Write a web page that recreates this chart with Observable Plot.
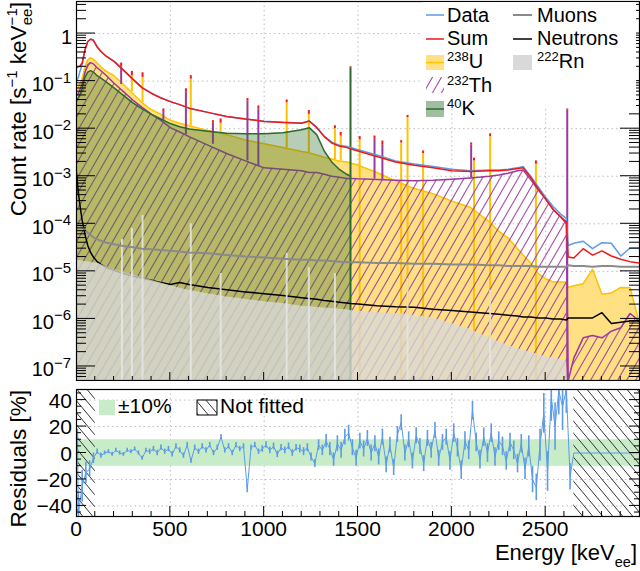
<!DOCTYPE html>
<html><head><meta charset="utf-8">
<script src="https://cdn.jsdelivr.net/npm/d3@7"></script>
<script src="https://cdn.jsdelivr.net/npm/@observablehq/plot@0.6"></script>
<style>
html,body{margin:0;padding:0;background:#fff;}
#wrap{position:relative;width:640px;height:571px;overflow:hidden;background:#fff;}
#top,#bot{position:absolute;left:0;}
#top{top:0}
#bot{top:381px}
svg{display:block}
</style></head><body>
<div id="wrap"><div id="top"></div><div id="bot"></div></div>
<script>
// ---------------- DATA ----------------
const energy = [0,10,20,30,45,60,75,90,110,130,160,200,250,300,350,400,450,500,550,600,700,800,900,1000,1100,1200,1240,1280,1320,1360,1400,1440,1460,1500,1600,1700,1800,1900,2000,2100,2200,2250,2300,2350,2380,2420,2460,2500,2540,2580,2610,2620,2650,2700,2750,2800,2850,2900,2950,3000];
const dataRate = [0.1,0.12,0.17,0.22,0.45,0.68,0.77,0.73,0.53,0.42, 0.33,0.26,0.17,0.11,0.073,0.056,0.045,0.037,0.032,0.027, 0.022,0.018,0.016,0.0143,0.0136,0.0132,0.0146,0.0107,0.007,0.0052, 0.0045,0.0042,0.004,0.0036,0.0028,0.0021,0.0018,0.0016,0.0014,0.0013, 0.00135,0.00135,0.0014,0.0015,0.0016,0.001,0.0006,0.00036,0.00023,0.00016, 0.00013,3.5e-5,3.9e-5,4.3e-5,3e-5,4e-5,3.9e-5,2.1e-5,3.1e-5,3.1e-5];
const sumRate = [0.19,0.2,0.21,0.24,0.45,0.68,0.76,0.72,0.52,0.42, 0.33,0.26,0.17,0.11,0.072,0.055,0.044,0.037,0.032,0.027, 0.022,0.018,0.016,0.0142,0.0135,0.013,0.0145,0.0105,0.0068,0.005, 0.0043,0.004,0.0038,0.0034,0.0026,0.002,0.0017,0.0015,0.0013,0.00125, 0.0013,0.0013,0.00135,0.00145,0.0015,0.00095,0.00055,0.00033,0.0002,0.00014, 0.00011,2e-5,1.9e-5,3e-5,2.2e-5,2.7e-5,2.1e-5,1.8e-5,1.6e-5,1.5e-5];
const u238 = [0.069,0.075,0.09,0.11,0.2,0.28,0.31,0.29,0.24,0.2, 0.16,0.13,0.085,0.055,0.035,0.025,0.02,0.015,0.013,0.0115, 0.0092,0.0075,0.0058,0.0048,0.004,0.0033,0.0031,0.0028,0.0025,0.0023, 0.0021,0.002,0.0019,0.0017,0.0012,0.0008,0.00055,0.00043,0.0003,0.00022, 0.00011,7e-5,5e-5,3e-5,2.2e-5,1.5e-5,9e-6,7e-6,6e-6,6e-6, 6e-6,4.6e-6,5e-6,5.5e-6,1.1e-5,3.3e-6,3.5e-6,4.6e-6,4.5e-6,8e-7];
const th232 = [0.05,0.055,0.07,0.085,0.15,0.22,0.245,0.23,0.19,0.165, 0.13,0.09,0.06,0.04,0.028,0.02,0.015,0.0105,0.0085,0.0068, 0.0045,0.003,0.0021,0.0015,0.0014,0.0013,0.0012,0.0012,0.0011,0.001, 0.00095,0.0009,0.0009,0.00088,0.00085,0.00082,0.0008,0.00082,0.00086,0.00092, 0.001,0.00106,0.00115,0.0013,0.00135,0.00085,0.00052,0.00033,0.0002,0.00014, 0.0001,5e-8,1.5e-7,4e-7,4.5e-7,4e-7,5.5e-7,6.5e-7,1.3e-6,9e-7];
const k40 = [0.039,0.045,0.055,0.07,0.12,0.155,0.166,0.155,0.13,0.115, 0.095,0.072,0.05,0.035,0.026,0.02,0.016,0.0128,0.011,0.0098, 0.0088,0.008,0.0078,0.0078,0.0082,0.0095,0.0105,0.0075,0.0034,0.002, 0.0014,0.0011,0.001,null,null,null,null,null,null,null, null,null,null,null,null,null,null,null,null,null, null,null,null,null,null,null,null,null,null,null];
const muons = [9e-5,1e-4,9.5e-5,8.5e-5,7.5e-5,6.5e-5,5.8e-5,5.2e-5,4.7e-5,4.4e-5, 4e-5,3.7e-5,3.4e-5,3.2e-5,3e-5,2.9e-5,2.8e-5,2.7e-5,2.6e-5,2.5e-5, 2.4e-5,2.2e-5,2.05e-5,1.95e-5,1.85e-5,1.75e-5,1.75e-5,1.7e-5,1.7e-5,1.65e-5, 1.6e-5,1.55e-5,1.55e-5,1.55e-5,1.5e-5,1.5e-5,1.45e-5,1.45e-5,1.4e-5,1.4e-5, 1.35e-5,1.35e-5,1.3e-5,1.3e-5,1.3e-5,1.3e-5,1.25e-5,1.25e-5,1.25e-5,1.25e-5, 1.25e-5,1.35e-5,1.3e-5,1.3e-5,1.25e-5,1.3e-5,1.3e-5,1.25e-5,1.25e-5,1.25e-5];
const neutrons = [1.2e-3,4.5e-4,2.2e-4,1.2e-4,6e-5,3.5e-5,2.5e-5,2e-5,1.6e-5,1.4e-5, 1.2e-5,1.05e-5,9e-6,8e-6,7.2e-6,6.5e-6,5.8e-6,5.3e-6,5.8e-6,5.3e-6, 4.6e-6,4.1e-6,3.7e-6,3.4e-6,3.1e-6,2.8e-6,2.7e-6,2.6e-6,2.45e-6,2.35e-6, 2.25e-6,2.15e-6,2.1e-6,2.05e-6,1.9e-6,1.8e-6,1.75e-6,1.6e-6,1.5e-6,1.4e-6, 1.3e-6,1.25e-6,1.2e-6,1.15e-6,1.1e-6,1.1e-6,1.05e-6,1.05e-6,1e-6,1e-6, 9.5e-7,1.05e-6,1.05e-6,1.05e-6,1.05e-6,1.35e-6,8e-7,8.5e-7,9e-7,9e-7];
const rn222 = [1.7e-5,1.7e-5,1.7e-5,1.65e-5,1.6e-5,1.6e-5,1.55e-5,1.5e-5,1.5e-5,1.4e-5, 1.25e-5,1.1e-5,9.5e-6,8.5e-6,7.4e-6,6.5e-6,5.7e-6,5e-6,4.4e-6,4e-6, 3.4e-6,2.9e-6,2.6e-6,2.3e-6,2.1e-6,1.85e-6,1.8e-6,1.75e-6,1.7e-6,1.65e-6, 1.6e-6,1.55e-6,1.5e-6,1.45e-6,1.35e-6,1.3e-6,1.2e-6,1.05e-6,8e-7,6e-7, 4e-7,3.3e-7,2.8e-7,2.4e-7,2.2e-7,2e-7,1.8e-7,1.6e-7,1.5e-7,1.4e-7, 1.3e-7,3e-8,3e-8,3e-8,3e-8,3e-8,3e-8,3e-8,3e-8,3e-8];

// gamma lines: energy, base, top of component, top of model sum
const uPeakE    = [295,352,609,768,1120,1238,1377,1408,1509,1730,1764,1847,2118,2204,2448];
const uPeakBase = [0.06,0.035,0.0115,0.008,0.0039,0.0031,0.0022,0.0021,1e-9,1e-9,1e-9,1e-9,1e-9,1e-9,1e-9];
const uPeakTop  = [0.13,0.12,0.11,0.013,0.035,0.02,0.01,0.007,0.0058,0.005,0.017,0.003,0.0021,0.0068,0.0018];
const uPeakSum  = [0.16,0.15,0.13,0.016,0.04,0.024,0.0115,0.0083,0.0068,0.0056,0.019,0.0034,0.0024,0.0078,0.0021];
const thPeakE    = [238,463,583,727,911,969,1588,1630,2103,2615];
const thPeakBase = [0.085,0.015,0.0075,0.0047,0.0021,0.0016,0.00087,0.00085,0.0009,1e-9];
const thPeakTop  = [0.2,0.022,0.06,0.013,0.038,0.026,0.006,0.0045,0.0045,0.025];
const thPeakSum  = [0.24,0.026,0.069,0.0147,0.043,0.03,0.007,0.0055,0.005,0.026];
const kPeakE = [1460], kPeakTop = [0.19], kPeakSum = [0.2];
const rnPeakE   = [242,295,352,609,768,1120,1238,1377,1764,2204];
const rnPeakTop = [4.7e-5,8e-5,1.5e-4,1e-4,9e-6,2.4e-5,1.2e-5,9e-6,7e-6,4e-6];

// residuals [%] with their spread
const resE = [5,10,30,50,70,90,110,130,150,170,190,210,230,250,270,290,310,330,350,370,390,410,430,450,470,490,510,530,550,570,590,610,630,650,670,690,710,730,750,770,790,810,830,850,870,890,910,930,950,970,990,1010,1030,1050,1070,1090,1110,1130,1150,1170,1190,1210,1230,1250,1270,1290,1310,1330,1350,1370,1390,1410,1430,1450,1470,1490,1510,1530,1550,1570,1590,1610,1630,1650,1670,1690,1710,1730,1750,1770,1790,1810,1830,1850,1870,1890,1910,1930,1950,1970,1990,2010,2030,2050,2070,2090,2110,2130,2150,2170,2190,2210,2230,2250,2270,2290,2310,2330,2350,2370,2390,2410,2430,2450,2470,2490,2510,2530,2550,2570,2590,2610,2630,2650,2990];
const resV = [8,-46,-25,-15,-12,-4,1,-2,0,1,-1,2,0,-1,2,1,3,0,-4,2,1,3,0,4,1,3,-1,5,2,-2,6,-6,4,1,5,2,6,0,4,12,2,5,0,6,3,5,-27,4,6,1,3,6,2,5,-1,4,2,5,0,4,3,1,4,-3,-8,6,2,9,3,-5,7,2,12,15,4,-4,9,3,11,0,7,-3,12,-9,6,-11,14,23,0,10,-6,13,5,-8,11,2,17,-4,8,12,-6,15,4,-13,9,2,32,8,-5,12,0,15,-3,9,5,-6,8,2,-8,7,-12,5,-20,-26,6,30,-14,42,20,47,35,48,-18,0,0];
const resErr = [10,15,12,8,6,4,2,2,1.5,1.5, 1.5,1.5,1.5,1.5,1.5,1.5,1.5,1.5,1.5,1.5, 2,2,2,2,2,2,2,2,2,2, 2,2,2,2,2,2,2,2,2,2, 2,2,2,2,2,2,3,2,2,2, 2.5,2.5,2.5,2.5,2.5,2.5,2.5,2.5,2.5,2.5, 3,3,3,3,3,4,4,5,5,5, 6,6,6,6,6,6,6,6,6,6, 6,6,6,6,6,6,6,6,6,6, 6,6,6,6,6,6,6,6,6,6, 7,7,7,7,7,7,7,7,7,7, 7,7,7,7,7,7,7,7,7,7, 8,8,10,10,12,15,15,18,18,18, 18,18,10,0,0];

// axes / layout parameters
const xDomain = [0, 3000];
const yTopDomain = [Math.pow(10,-7.295), Math.pow(10,0.674)];
const resDomain = [-48, 48];
const floorRate = 1e-9;
const band = 10;
const notFitted = [[0,100],[2650,3000]];
const decades = [1,1e-1,1e-2,1e-3,1e-4,1e-5,1e-6,1e-7];
const xMajor = [0,500,1000,1500,2000,2500];
const resTicks = [40,20,0,-20,-40];

const FONT = "'Liberation Sans', Arial, Helvetica, sans-serif";
const C = {data:"#5b9be8", sum:"#f01818", uLine:"#ffc200", uFill:"#ffe183", th:"#9b3a9e",
  kLine:"#2d6a2d", kFill:"#2f6f2f", mu:"#8a8a8a", n:"#000000", rn:"#d9d9d9", band:"#c8ebc8", grid:"#bdbdbd"};

const rows = energy.map((e,i)=>({e, data:dataRate[i], sum:sumRate[i], u:u238[i], th:th232[i], k:k40[i], mu:muons[i], n:neutrons[i], rn:rn222[i]}));
const uPeaks = uPeakE.map((e,i)=>({e, base:uPeakBase[i], top:uPeakTop[i], sum:uPeakSum[i]}));
const thPeaks = thPeakE.map((e,i)=>({e, base:thPeakBase[i], top:thPeakTop[i], sum:thPeakSum[i]}));
const kPeaks = kPeakE.map((e,i)=>({e, top:kPeakTop[i], sum:kPeakSum[i]}));
const rnPeaks = rnPeakE.map((e,i)=>({e, top:rnPeakTop[i]}));
const sumCaps = [...uPeaks, ...thPeaks, ...kPeaks];
const resRows = resE.map((e,i)=>({e, v:resV[i], err:resErr[i]}));

function addPatterns(svg){
  const defs = d3.select(svg).insert("defs", ":first-child");
  const p = defs.append("pattern").attr("id","thHatch").attr("patternUnits","userSpaceOnUse").attr("width",9).attr("height",15.6);
  p.append("path").attr("d","M-9,15.6 L9,-15.6 M-9,31.2 L18,-15.6 M0,31.2 L18,0").attr("stroke",C.th).attr("stroke-width",1.05).attr("fill","none");
  const q = defs.append("pattern").attr("id","nfHatch").attr("patternUnits","userSpaceOnUse").attr("width",10).attr("height",12);
  q.append("path").attr("d","M-10,-12 L20,24 M0,-12 L20,12 M-10,0 L10,24").attr("stroke","#333").attr("stroke-width",1).attr("fill","none");
}

// ---------------- TOP PANEL ----------------
const topChart = Plot.plot({
  width:640, height:381, marginLeft:76, marginRight:1, marginTop:1, marginBottom:1,
  x:{domain:xDomain, axis:null},
  y:{type:"log", domain:yTopDomain, axis:null},
  style:{fontFamily:FONT, background:"white"},
  marks:[
    Plot.ruleY(decades, {stroke:C.grid, strokeDasharray:"1.5,3"}),
    Plot.ruleX(xMajor.slice(1), {stroke:C.grid, strokeDasharray:"1.5,3"}),
    Plot.areaY(rows, {x:"e", y1:floorRate, y2:"u", fill:C.uFill, clip:true}),
    Plot.ruleX(uPeaks, {x:"e", y1:"base", y2:"top", stroke:C.uLine, strokeWidth:2, clip:true}),
    Plot.line(rows, {x:"e", y:"u", stroke:C.uLine, strokeWidth:1.5, clip:true}),
    Plot.areaY(rows, {x:"e", y1:floorRate, y2:"th", fill:"url(#thHatch)", clip:true}),
    Plot.ruleX(thPeaks, {x:"e", y1:"base", y2:"top", stroke:C.th, strokeWidth:2, clip:true}),
    Plot.line(rows, {x:"e", y:"th", stroke:C.th, strokeWidth:1.5, clip:true}),
    Plot.areaY(rows, {x:"e", y1:floorRate, y2:"k", fill:C.kFill, fillOpacity:0.35, clip:true}),
    Plot.line(rows, {x:"e", y:"k", stroke:C.kLine, strokeWidth:1.5, clip:true}),
    Plot.ruleX(kPeaks, {x:"e", y1:floorRate, y2:"top", stroke:C.kLine, strokeWidth:2, clip:true}),
    Plot.line(rows, {x:"e", y:"n", stroke:C.n, strokeWidth:1.5, clip:true}),
    Plot.areaY(rows, {x:"e", y1:floorRate, y2:"rn", fill:C.rn, fillOpacity:0.78, clip:true}),
    Plot.ruleX(rnPeaks, {x:"e", y1:floorRate, y2:"top", stroke:"#e6e6e6", strokeWidth:2, strokeOpacity:0.85, clip:true}),
    Plot.line(rows, {x:"e", y:"mu", stroke:C.mu, strokeWidth:2, clip:true}),
    Plot.line(rows, {x:"e", y:"data", stroke:C.data, strokeWidth:1.5, clip:true}),
    Plot.line(rows, {x:"e", y:"sum", stroke:C.sum, strokeWidth:1.5, clip:true}),
    Plot.ruleX(sumCaps, {x:"e", y1:"top", y2:"sum", stroke:C.sum, strokeWidth:2, clip:true}),
    Plot.frame({stroke:"black", strokeWidth:1.2})
  ]
});
addPatterns(topChart);
document.getElementById("top").appendChild(topChart);

(function decorateTop(){
  const svg = d3.select(topChart);
  const sx = topChart.scale("x"), sy = topChart.scale("y");
  const [xl, xr] = sx.range;
  const yb = sy.range[0];
  const g = svg.append("g").attr("stroke","black").attr("stroke-width",1);
  const lo = Math.log10(yTopDomain[0]), hi = Math.log10(yTopDomain[1]);
  for (let k = -8; k <= 0; k++) for (let m = 1; m <= 9; m++) {
    const v = m * Math.pow(10,k), lv = Math.log10(v);
    if (lv < lo || lv > hi) continue;
    const y = sy.apply(v), L = m === 1 ? 19 : 10;
    g.append("line").attr("x1",xl).attr("x2",xl+L).attr("y1",y).attr("y2",y);
    g.append("line").attr("x1",xr-L).attr("x2",xr).attr("y1",y).attr("y2",y);
  }
  for (let e = 100; e < 3000; e += 100) {
    const x = sx.apply(e), L = e % 500 === 0 ? 8 : 4;
    g.append("line").attr("x1",x).attr("x2",x).attr("y1",yb).attr("y2",yb-L);
  }
  const t = svg.append("g").attr("font-family",FONT).attr("fill","black");
  for (const d of decades) {
    const y = sy.apply(d);
    if (d === 1) {
      t.append("text").attr("x",xl-4).attr("y",y+11).attr("text-anchor","end").attr("font-size",20).text("1");
    } else {
      t.append("text").attr("x",xl-22).attr("y",y+10.5).attr("text-anchor","end").attr("font-size",20).text("10");
      t.append("text").attr("x",xl-22).attr("y",y+2).attr("text-anchor","start").attr("font-size",15).text("−" + Math.round(-Math.log10(d)));
    }
  }
  // y title
  const yt = svg.append("text").attr("transform","translate(26,2) rotate(-90)").attr("text-anchor","end")
    .attr("font-family",FONT).attr("font-size",22.5).attr("fill","black");
  yt.append("tspan").text("Count rate [s");
  yt.append("tspan").attr("dy",-9).attr("font-size",15).text("−1");
  yt.append("tspan").attr("dy",9).text(" keV");
  yt.append("tspan").attr("dy",6).attr("font-size",15).text("ee");
  yt.append("tspan").attr("dx",-16.7).attr("dy",-15).attr("font-size",15).text("−1");
  yt.append("tspan").attr("dy",9).text("]");
  // legend
  const L = svg.append("g").attr("font-family",FONT).attr("font-size",20).attr("fill","black").attr("text-anchor","start");
  L.append("rect").attr("x",422).attr("y",2).attr("width",214).attr("height",104).attr("fill","white");
  const hline = (x1,x2,y,c,w)=>L.append("line").attr("x1",x1).attr("x2",x2).attr("y1",y).attr("y2",y).attr("stroke",c).attr("stroke-width",w);
  const label = (x,y,sup,main)=>{
    const tx = L.append("text").attr("x",x).attr("y",y).attr("text-anchor","start");
    if (sup) { tx.append("tspan").attr("font-size",13).attr("dy",-7).text(sup); tx.append("tspan").attr("dy",7).text(main); }
    else tx.text(main);
  };
  hline(426,444,15,C.data,1.5); label(447,22,null,"Data");
  hline(426,444,39,C.sum,1.5); label(447,45,null,"Sum");
  L.append("rect").attr("x",426).attr("y",55).attr("width",18).attr("height",15).attr("fill",C.uFill);
  hline(426,444,62.5,C.uLine,1.5); label(447,68,"238","U");
  L.append("rect").attr("x",426).attr("y",77).attr("width",18).attr("height",16).attr("fill","url(#thHatch)");
  label(447,92,"232","Th");
  L.append("rect").attr("x",426).attr("y",101).attr("width",18).attr("height",16).attr("fill",C.kFill).attr("fill-opacity",0.45);
  hline(426,444,109,C.kLine,1.5); label(447,115,"40","K");
  hline(513,532,15,C.mu,2); label(537,22,null,"Muons");
  hline(513,532,39,C.n,1.5); label(537,45,null,"Neutrons");
  L.append("rect").attr("x",513).attr("y",55).attr("width",19).attr("height",15).attr("fill",C.rn);
  label(537,68,"222","Rn");
})();

// ---------------- RESIDUAL PANEL ----------------
const botChart = Plot.plot({
  width:640, height:190, marginLeft:76, marginRight:1, marginTop:8, marginBottom:55,
  x:{domain:xDomain, axis:null},
  y:{domain:resDomain, axis:null},
  style:{fontFamily:FONT, background:"white"},
  marks:[
    Plot.ruleY(resTicks, {stroke:C.grid, strokeDasharray:"1.5,3"}),
    Plot.ruleX(xMajor.slice(1), {stroke:C.grid, strokeDasharray:"1.5,3"}),
    Plot.rect([band], {x1:xDomain[0], x2:xDomain[1], y1:d=>-d, y2:d=>d, fill:C.band}),
    Plot.rect(notFitted, {x1:d=>d[0], x2:d=>d[1], y1:resDomain[0], y2:resDomain[1], fill:"url(#nfHatch)"}),
    Plot.ruleX(resRows, {x:"e", y1:d=>d.v - d.err, y2:d=>d.v + d.err, stroke:C.data, strokeWidth:1.6, clip:true}),
    Plot.line(resRows, {x:"e", y:"v", stroke:C.data, strokeWidth:1, clip:true}),
    Plot.frame({stroke:"black", strokeWidth:1.2})
  ]
});
document.getElementById("bot").appendChild(botChart);

(function decorateBot(){
  const svg = d3.select(botChart);
  const sx = botChart.scale("x"), sy = botChart.scale("y");
  const [xl, xr] = sx.range;
  const yb = sy.range[0];
  const g = svg.append("g").attr("stroke","black").attr("stroke-width",1);
  for (let v = -45; v <= 45; v += 5) {
    const y = sy.apply(v), L = v % 20 === 0 ? 10 : 5;
    g.append("line").attr("x1",xl).attr("x2",xl+L).attr("y1",y).attr("y2",y);
    g.append("line").attr("x1",xr-L).attr("x2",xr).attr("y1",y).attr("y2",y);
  }
  for (let e = 100; e < 3000; e += 100) {
    const x = sx.apply(e), L = e % 500 === 0 ? 10 : 5;
    g.append("line").attr("x1",x).attr("x2",x).attr("y1",yb).attr("y2",yb-L);
  }
  const t = svg.append("g").attr("font-family",FONT).attr("font-size",21).attr("fill","black");
  for (const v of resTicks) {
    t.append("text").attr("x",xl-4).attr("y",sy.apply(v)+8).attr("text-anchor","end").text(v < 0 ? "−" + (-v) : String(v));
  }
  for (const e of xMajor) {
    t.append("text").attr("x",sx.apply(e)).attr("y",155).attr("text-anchor","middle").text(String(e));
  }
  const et = svg.append("text").attr("x",637).attr("y",179).attr("text-anchor","end")
    .attr("font-family",FONT).attr("font-size",22).attr("fill","black");
  et.append("tspan").text("Energy [keV");
  et.append("tspan").attr("dy",7).attr("font-size",14.5).text("ee");
  et.append("tspan").attr("dy",-7).text("]");
  svg.append("text").attr("transform","translate(26,9) rotate(-90)").attr("text-anchor","end")
    .attr("font-family",FONT).attr("font-size",22.5).attr("fill","black").text("Residuals [%]");
  const L = svg.append("g").attr("font-family",FONT).attr("font-size",21).attr("fill","black").attr("text-anchor","start");
  L.append("rect").attr("x",99).attr("y",19).attr("width",16).attr("height",15).attr("fill",C.band);
  L.append("text").attr("x",118).attr("y",32).attr("text-anchor","start").text("±10%");
  L.append("rect").attr("x",197).attr("y",19).attr("width",20).attr("height",15).attr("fill","url(#nfHatch)").attr("stroke","black").attr("stroke-width",1);
  L.append("text").attr("x",220).attr("y",32).attr("text-anchor","start").text("Not fitted");
})();
</script>
</body></html>
